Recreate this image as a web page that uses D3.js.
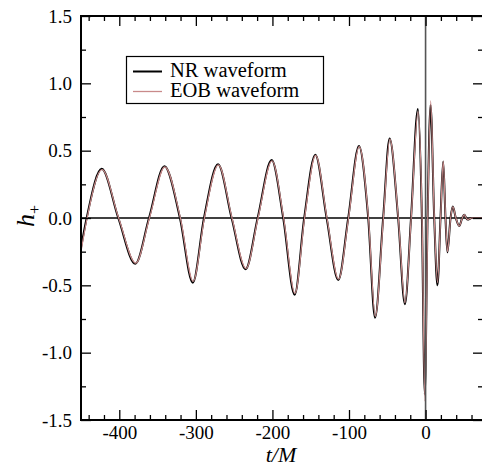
<!DOCTYPE html>
<html>
<head>
<meta charset="utf-8">
<script src="https://cdn.jsdelivr.net/npm/d3@7"></script>
<style>
  body { margin: 0; background: #fff; }
  svg { display: block; }
  svg text { font-family: "Liberation Serif", "Times New Roman", "DejaVu Serif", serif; fill: #000; }
</style>
</head>
<body>
<div id="chart"></div>
<script>
// NR waveform: extrema and zero crossings
var nrT = [-450, -442.6, -423, -401.3, -379, -361.2, -341, -320.8, -304, -289.4, -271, -253.3,
  -235, -219.3, -201, -185.9, -171, -158.5, -144, -129.2, -114, -101, -87, -74.9, -66, -55.4,
  -47, -35.8, -27, -19, -10, -4.8, -1, 2.6, 6.5, 11.3, 15.5, 19.5, 23, 26, 28.5, 32.6, 35.5,
  39.5, 44, 47.8, 50.5, 53, 55, 60, 75];
var nrH = [-0.22, 0, 0.365, 0, -0.34, 0, 0.385, 0, -0.48, 0, 0.40, 0,
  -0.38, 0, 0.43, 0, -0.57, 0, 0.47, 0, -0.46, 0, 0.535, 0, -0.74, 0,
  0.59, 0, -0.64, 0, 0.81, 0, -1.31, 0, 0.84, 0, -0.5, 0, 0.42, 0, -0.255, 0, 0.085,
  0, -0.06, 0, 0.025, 0, -0.012, 0, 0];

// EOB waveform
var eobT = [-450, -442.0, -422.5, -400.8, -378.5, -360.6, -340.5, -320.2, -303.5, -288.8, -270.5, -252.8,
  -234.5, -218.8, -200.5, -185.4, -170.5, -158.0, -143.5, -128.8, -113.6, -100.6, -86.6, -74.6, -65.7, -55.1,
  -46.7, -35.6, -26.8, -18.8, -9.8, -4.6, -0.8, 2.8, 6.6, 11.4, 15.6, 19.6, 23.1, 26.1, 28.6, 32.7, 35.6,
  39.6, 44.1, 47.9, 50.6, 53.1, 55.1, 60, 75];
var eobH = [-0.25, 0, 0.36, 0, -0.335, 0, 0.38, 0, -0.47, 0, 0.395, 0,
  -0.375, 0, 0.425, 0, -0.56, 0, 0.465, 0, -0.455, 0, 0.53, 0, -0.73, 0,
  0.585, 0, -0.63, 0, 0.79, 0, -1.36, 0, 0.87, 0, -0.48, 0, 0.42, 0, -0.25, 0, 0.085,
  0, -0.06, 0, 0.025, 0, -0.012, 0, 0];

var xMajor = [-400, -300, -200, -100, 0];
var xMinor = [-440, -420, -380, -360, -340, -320, -280, -260, -240, -220, -180, -160, -140, -120,
  -80, -60, -40, -20, 20, 40, 60];
var yMajor = [-1.5, -1.0, -0.5, 0.0, 0.5, 1.0, 1.5];
var yMinor = [-1.25, -0.75, -0.25, 0.25, 0.75, 1.25];
var seriesNames = ['NR waveform', 'EOB waveform'];
var seriesColors = ['#000000', '#c98a8a'];

(function(){
  var width = 482, height = 466;
  var mLeft = 81, mRight = 483, mTop = 16, mBottom = 420;
  var serif = '"Liberation Serif", "Times New Roman", serif';

  var svg = d3.select('#chart').append('svg')
    .attr('width', width)
    .attr('height', height);

  var x = d3.scaleLinear().domain([-450, 75]).range([mLeft, mRight]);
  var y = d3.scaleLinear().domain([-1.5, 1.5]).range([mBottom, mTop]);

  // plain hyphen minus like the original
  var fx = d => String(d);
  var fy = d => d.toFixed(1);

  // zero line
  svg.append('line')
    .attr('x1', mLeft).attr('x2', mRight)
    .attr('y1', y(0)).attr('y2', y(0))
    .attr('stroke', '#000').attr('stroke-width', 1.5);

  var line = d3.line()
    .x(d => x(d[0]))
    .y(d => y(d[1]))
    .curve(d3.curveMonotoneX);

  var nr = nrT.map((t, i) => [t, nrH[i]]);
  var eob = eobT.map((t, i) => [t, eobH[i]]);

  svg.append('path')
    .datum(nr)
    .attr('d', line)
    .attr('fill', 'none')
    .attr('stroke', seriesColors[0])
    .attr('stroke-width', 2);

  svg.append('path')
    .datum(eob)
    .attr('d', line)
    .attr('fill', 'none')
    .attr('stroke', seriesColors[1])
    .attr('stroke-width', 1.2);

  // marker at t = 0
  svg.append('line')
    .attr('x1', x(0)).attr('x2', x(0))
    .attr('y1', mTop).attr('y2', mBottom)
    .attr('stroke', '#555').attr('stroke-width', 1.6);

  // axes, ticks inward on all sides
  function style(g){
    g.attr('font-family', serif).attr('font-size', 19);
    g.select('.domain').remove();
    g.selectAll('.tick line').attr('stroke', '#000').attr('stroke-width', 1.3);
  }

  svg.append('g')
    .attr('transform', 'translate(0,' + mBottom + ')')
    .call(d3.axisBottom(x).tickValues(xMajor).tickSizeInner(-10).tickPadding(6).tickFormat(fx))
    .call(style);
  svg.append('g')
    .attr('transform', 'translate(0,' + mBottom + ')')
    .call(d3.axisBottom(x).tickValues(xMinor).tickSizeInner(-5).tickFormat(''))
    .call(style);
  svg.append('g')
    .attr('transform', 'translate(0,' + mTop + ')')
    .call(d3.axisTop(x).tickValues(xMajor).tickSizeInner(-10).tickFormat(''))
    .call(style);
  svg.append('g')
    .attr('transform', 'translate(0,' + mTop + ')')
    .call(d3.axisTop(x).tickValues(xMinor).tickSizeInner(-5).tickFormat(''))
    .call(style);

  svg.append('g')
    .attr('transform', 'translate(' + mLeft + ',0)')
    .call(d3.axisLeft(y).tickValues(yMajor).tickSizeInner(-10).tickPadding(9).tickFormat(fy))
    .call(style);
  svg.append('g')
    .attr('transform', 'translate(' + mLeft + ',0)')
    .call(d3.axisLeft(y).tickValues(yMinor).tickSizeInner(-5).tickFormat(''))
    .call(style);
  svg.append('g')
    .attr('transform', 'translate(' + mRight + ',0)')
    .call(d3.axisRight(y).tickValues(yMajor).tickSizeInner(-10).tickFormat(''))
    .call(style);
  svg.append('g')
    .attr('transform', 'translate(' + mRight + ',0)')
    .call(d3.axisRight(y).tickValues(yMinor).tickSizeInner(-5).tickFormat(''))
    .call(style);

  // frame
  svg.append('rect')
    .attr('x', mLeft).attr('y', mTop)
    .attr('width', mRight - mLeft).attr('height', mBottom - mTop)
    .attr('fill', 'none').attr('stroke', '#000').attr('stroke-width', 2);

  // axis titles
  svg.append('text')
    .attr('x', (mLeft + mRight) / 2 - 1)
    .attr('y', 462)
    .attr('text-anchor', 'middle')
    .attr('font-size', 22)
    .attr('font-style', 'italic')
    .text('t/M');

  var yl = svg.append('text')
    .attr('transform', 'translate(34,216) rotate(-90)')
    .attr('text-anchor', 'middle')
    .attr('font-size', 26);
  yl.append('tspan').attr('font-style', 'italic').text('h');
  yl.append('tspan').attr('font-size', 16).attr('dy', 6).text('+');

  // legend
  var lg = svg.append('g');
  lg.append('rect')
    .attr('x', 126.5).attr('y', 56.5)
    .attr('width', 197).attr('height', 47)
    .attr('fill', '#fff').attr('stroke', '#000').attr('stroke-width', 1.2);
  seriesNames.forEach(function(name, i){
    var yy = 71.5 + i * 20;
    lg.append('line')
      .attr('x1', 133).attr('x2', 162)
      .attr('y1', yy).attr('y2', yy)
      .attr('stroke', seriesColors[i]).attr('stroke-width', i === 0 ? 2 : 1.3);
    lg.append('text')
      .attr('x', 170).attr('y', yy + 5)
      .attr('font-size', 20.5)
      .text(name);
  });
})();
</script>
</body>
</html>
